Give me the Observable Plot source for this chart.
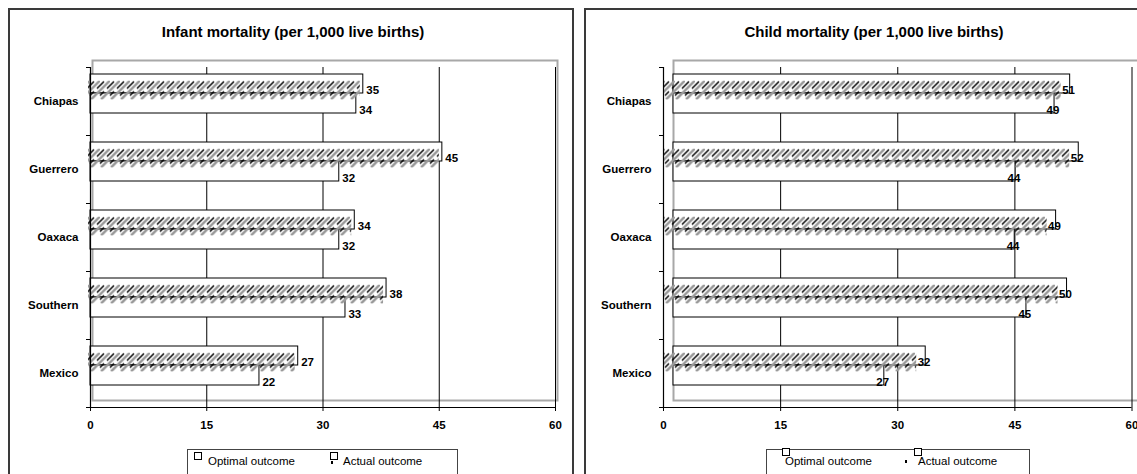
<!DOCTYPE html>
<html><head><meta charset="utf-8">
<script src="https://cdn.jsdelivr.net/npm/d3@7"></script>
<script src="https://cdn.jsdelivr.net/npm/@observablehq/plot@0.6"></script>
<style>
html,body{margin:0;padding:0;background:#fff;}
body{width:1137px;height:474px;overflow:hidden;position:relative;font-family:"Liberation Sans",Arial,sans-serif;color:#000;}
.panel{position:absolute;border:2px solid #3a3a3a;box-sizing:border-box;}
.title{position:absolute;font-weight:bold;font-size:15px;line-height:18px;white-space:nowrap;transform:translateX(-50%);top:23px;}
.legend{position:absolute;border:1px solid #444;box-sizing:border-box;height:40px;}
.sw{position:absolute;width:8px;height:8px;border:1px solid #000;box-sizing:border-box;background:#fff;}
.dash{position:absolute;width:2px;height:3px;background:#000;}
.lt{position:absolute;white-space:nowrap;font-size:11.5px;line-height:14px;}
.chart{position:absolute;top:0;}
.chart svg{overflow:visible;max-width:none;}
</style></head><body>
<div class="panel" style="left:8px;top:8px;width:566px;height:520px;"></div>
<div class="panel" style="left:584px;top:8px;width:580px;height:520px;"></div>
<div class="title" style="left:293px;">Infant mortality (per 1,000 live births)</div>
<div class="title" style="left:874px;">Child mortality (per 1,000 live births)</div>
<div id="left" class="chart" style="left:0px;"></div>
<div id="right" class="chart" style="left:575px;"></div>
<div class="legend" style="left:187px;top:449px;width:271px;">
  <div class="sw" style="left:6px;top:2px;"></div><div class="lt" style="left:20px;top:4px;">Optimal outcome</div>
  <div class="sw" style="left:142px;top:2px;"></div><div class="dash" style="left:143px;top:11px;"></div><div class="lt" style="left:155px;top:4px;">Actual outcome</div>
</div>
<div class="legend" style="left:766px;top:449px;width:264px;">
  <div class="lt" style="left:18px;top:4px;">Optimal outcome</div><div class="sw" style="left:15px;top:-2px;"></div>
  <div class="dash" style="left:138px;top:10px;"></div>
  <div class="lt" style="left:151px;top:4px;">Actual outcome</div><div class="sw" style="left:147px;top:-2px;"></div>
</div>
<script>
// ---- data ----
const categories = ["Chiapas", "Guerrero", "Oaxaca", "Southern", "Mexico"];
const infantOptimal = [34.3, 32.1, 32.1, 32.9, 21.8];
const infantActual  = [35.2, 45.4, 34.1, 38.2, 26.8];
const childOptimal  = [48.8, 43.8, 43.7, 45.2, 27.0];
const childActual   = [50.8, 51.9, 49.0, 50.4, 32.3];
const xTicks = [0, 15, 30, 45, 60];

const fmt = d3.format(".0f");

function addPattern(svg, id) {
  const s = d3.select(svg);
  const defs = s.insert("defs", ":first-child");
  const p = defs.append("pattern")
    .attr("id", id).attr("patternUnits", "userSpaceOnUse")
    .attr("x", 0).attr("y", 80.5).attr("width", 10).attr("height", 68);
  // gray 45° stripes
  p.append("path").attr("d", "M10,0L-9,19M20,0L1,19")
    .attr("stroke", "#9a9a9a").attr("stroke-width", 2.6).attr("fill", "none");
  // black slashes (upper row) and short ticks (lower row)
  p.append("path").attr("d", "M4,1L-3,8M14,1L7,8M4,11L0,15M14,11L10,15")
    .attr("stroke", "#000").attr("stroke-width", 1.5).attr("fill", "none");
}

function panel(el, {optimal, actual, width, marginLeft, marginRight, rectShift, hatchId, frameInsetLeft, frameInsetRight, hatchInsetLeft, hatchInsetRight, labelDx}) {
  const rows = categories.map((c, i) => ({category: c, optimal: optimal[i], actual: actual[i]}));
  const plot = Plot.plot({
    width, height: 474,
    marginLeft, marginRight, marginTop: 67, marginBottom: 67,
    style: {fontFamily: "Liberation Sans, Arial, sans-serif", fontSize: "11px", color: "#000", background: "transparent", overflow: "visible"},
    x: {domain: [0, 60], ticks: xTicks, label: null},
    y: {domain: categories, padding: 0, label: null},
    marks: [
      Plot.frame({stroke: "#a8a8a8", strokeWidth: 2, insetLeft: frameInsetLeft, insetRight: frameInsetRight, insetTop: -7, insetBottom: 7}),
      Plot.ruleX(xTicks.slice(1), {stroke: "#000", strokeWidth: 1}),
      Plot.barX(rows, {y: "category", x: "actual", fill: "#fff", stroke: "#000", strokeWidth: 1, insetTop: 7, insetBottom: 42, dx: rectShift}),
      Plot.barX(rows, {y: "category", x: "optimal", fill: "#fff", stroke: "#000", strokeWidth: 1, insetTop: 26, insetBottom: 22, dx: rectShift}),
      Plot.barX(rows, {y: "category", x: "actual", fill: `url(#${hatchId})`, insetTop: 13.5, insetBottom: 35.5, insetLeft: hatchInsetLeft, insetRight: hatchInsetRight}),
      Plot.text(rows, {y: "category", x: "actual", text: d => fmt(d.actual), dx: labelDx, dy: -11, textAnchor: "start", fontWeight: "bold", fontSize: 11.5}),
      Plot.text(rows, {y: "category", x: "optimal", text: d => fmt(d.optimal), dx: labelDx, dy: 9, textAnchor: "start", fontWeight: "bold", fontSize: 11.5}),
      Plot.ruleX([0], {stroke: "#000", strokeWidth: 1.2}),
      Plot.ruleY([categories[categories.length - 1]], {dy: 34, stroke: "#000", strokeWidth: 1.2, insetLeft: -4}),
      Plot.ruleY(categories, {dy: -34, x1: 0, x2: 0, insetLeft: -4, stroke: "#000", strokeWidth: 1}),
      Plot.axisX({ticks: xTicks, tickSize: 4, tickPadding: 9, fontWeight: "bold", fontSize: 11.5, stroke: "#000"}),
      Plot.axisY({tickSize: 0, tickPadding: 12, fontWeight: "bold", fontSize: 11.5})
    ]
  });
  addPattern(plot, hatchId);
  document.getElementById(el).appendChild(plot);
}

panel("left", {optimal: infantOptimal, actual: infantActual, width: 575, marginLeft: 90, marginRight: 20,
  rectShift: 0, hatchId: "hatchL", frameInsetLeft: 2, frameInsetRight: -2, hatchInsetLeft: -2, hatchInsetRight: 3, labelDx: 3});
panel("right", {optimal: childOptimal, actual: childActual, width: 562, marginLeft: 88, marginRight: 5.5,
  rectShift: 10, hatchId: "hatchR", frameInsetLeft: 10, frameInsetRight: -30, hatchInsetLeft: 0, hatchInsetRight: -1, labelDx: 2});
</script>
</body></html>
